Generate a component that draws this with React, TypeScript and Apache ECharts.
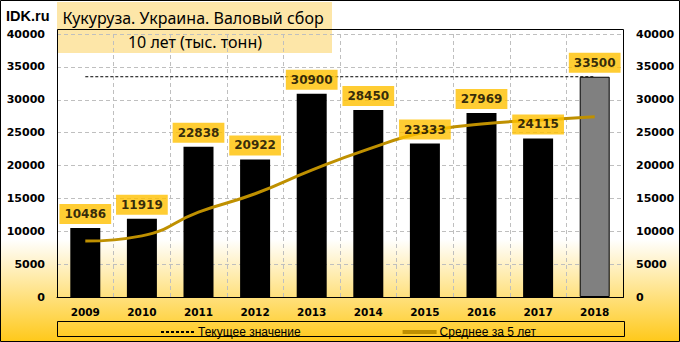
import React, { useEffect, useRef } from "react";
import * as echarts from "echarts";

const years = ["2009", "2010", "2011", "2012", "2013", "2014", "2015", "2016", "2017", "2018"];
const harvest = [10486, 11919, 22838, 20922, 30900, 28450, 23333, 27969, 24115, 33500];
const currentValue = [33500, 33500, 33500, 33500, 33500, 33500, 33500, 33500, 33500, 33500];
const avg5 = [8500, 9300, 12900, 15700, 19300, 22500, 25100, 26300, 26900, 27400];
const yTicks = { min: 0, max: 40000, interval: 5000 };

export default function App() {
  const ref = useRef<HTMLDivElement>(null);
  useEffect(() => {
    const chart = echarts.init(ref.current!, undefined, { renderer: "svg" });
    const axisLabelStyle = {
      color: "#000",
      fontFamily: "DejaVu Sans",
      fontWeight: "bold" as const,
      fontSize: 11,
      formatter: (v: number) => String(v),
    };
    chart.setOption({
      animation: false,
      grid: { left: 57, right: 57, top: 34, bottom: 45, containLabel: false },
      xAxis: {
        type: "category",
        data: years,
        boundaryGap: true,
        axisLine: { show: true, lineStyle: { color: "#000", width: 1 } },
        axisTick: { show: false },
        axisLabel: { color: "#000", fontFamily: "DejaVu Sans", fontWeight: "bold", fontSize: 10.5, margin: 9 },
        splitLine: { show: true, lineStyle: { color: "#BFBFBF", type: [4, 3], width: 1 } },
      },
      yAxis: [
        {
          type: "value",
          ...yTicks,
          axisLine: { show: true, lineStyle: { color: "#000" } },
          axisTick: { show: false },
          axisLabel: { ...axisLabelStyle, margin: 12 },
          splitLine: { show: true, lineStyle: { color: "#BFBFBF", type: [4, 3], width: 1 } },
        },
        {
          type: "value",
          ...yTicks,
          position: "right",
          axisLine: { show: true, lineStyle: { color: "#000" } },
          axisTick: { show: false },
          axisLabel: { ...axisLabelStyle, margin: 13 },
          splitLine: { show: false },
        },
      ],
      legend: {
        left: 155,
        top: 321,
        itemGap: 100,
        itemWidth: 34,
        itemHeight: 14,
        data: [
          { name: "Текущее значение", itemStyle: { opacity: 0 } },
          { name: "Среднее за 5 лет", itemStyle: { opacity: 0 }, lineStyle: { width: 4 } },
        ],
        textStyle: { color: "#000", fontFamily: "Liberation Sans", fontSize: 12, padding: [0, 0, 0, -2] },
      },
      series: [
        {
          name: "Текущее значение",
          type: "line",
          data: currentValue,
          symbol: "none",
          z: 2,
          lineStyle: { color: "#000", width: 1, type: [3, 2] },
          itemStyle: { color: "#000" },
        },
        {
          name: "Урожай",
          type: "bar",
          data: harvest.map((v, i) => ({
            value: v,
            itemStyle: i === harvest.length - 1
              ? { color: "#808080", borderColor: "#000", borderWidth: 1 }
              : { color: "#000" },
          })),
          barWidth: 30,
          z: 3,
        },
        {
          name: "Среднее за 5 лет",
          type: "line",
          data: avg5,
          smooth: true,
          symbol: "none",
          z: 4,
          lineStyle: { color: "#BF9000", width: 3 },
          itemStyle: { color: "#BF9000" },
        },
        {
          name: "labels",
          type: "scatter",
          data: harvest,
          symbolSize: 0,
          z: 6,
          silent: true,
          label: {
            show: true,
            position: "top",
            distance: 4,
            color: "#000",
            fontFamily: "DejaVu Sans",
            fontWeight: "bold",
            fontSize: 12,
            lineHeight: 14,
            backgroundColor: "#FFC000",
            padding: [3, 5, 3, 5],
          },
        },
      ],
      graphic: [
        {
          type: "rect",
          z: -10,
          shape: { x: 0.5, y: 0.5, width: 679, height: 341 },
          style: {
            fill: new echarts.graphic.LinearGradient(0, 0, 0, 1, [
              { offset: 0, color: "#FFFFFF" },
              { offset: 0.7, color: "#FFFFFF" },
              { offset: 1, color: "#FFC91A" },
            ]),
            stroke: "#000",
            lineWidth: 1,
          },
        },
        {
          type: "rect",
          z: -5,
          shape: { x: 57, y: 2, width: 275, height: 51 },
          style: { fill: "#FDE6A8" },
        },
        {
          type: "rect",
          z: 1,
          shape: { x: 57.5, y: 29.5, width: 566, height: 268 },
          style: { fill: "none", stroke: "#000", lineWidth: 1 },
        },
        {
          type: "rect",
          z: 1,
          shape: { x: 57.5, y: 321.5, width: 567, height: 15 },
          style: { fill: "none", stroke: "#000", lineWidth: 1 },
        },
        {
          type: "text",
          z: 10,
          x: 6,
          y: 16,
          style: { text: "IDK.ru", fill: "#000", font: "bold 14.5px 'Liberation Sans'", textVerticalAlign: "middle" },
        },
        {
          type: "text",
          z: 10,
          x: 193,
          y: 18,
          style: { text: "Кукуруза. Украина. Валовый сбор", fill: "#000", font: "16px 'Noto Sans'", textAlign: "center", textVerticalAlign: "middle" },
        },
        {
          type: "text",
          z: 10,
          x: 195,
          y: 42,
          style: { text: "10 лет (тыс. тонн)", fill: "#000", font: "16px 'Noto Sans'", textAlign: "center", textVerticalAlign: "middle" },
        },
      ],
    });
    return () => chart.dispose();
  }, []);
  return <div ref={ref} style={{ width: 680, height: 342, position: "absolute", left: 0, top: 0 }} />;
}
